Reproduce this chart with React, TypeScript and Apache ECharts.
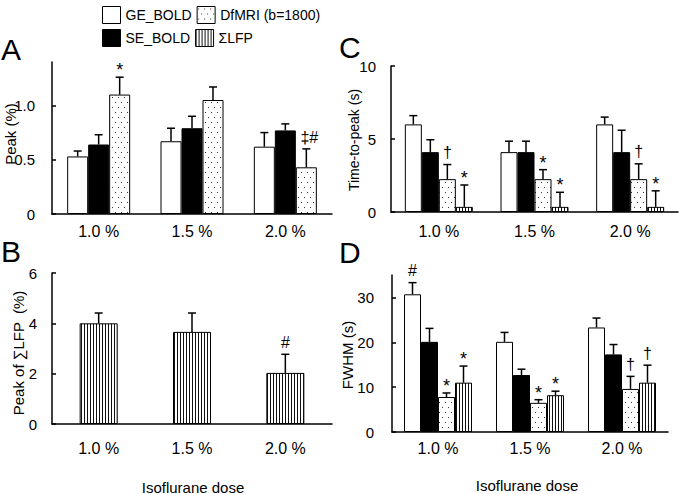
import React, { useEffect, useRef } from 'react';
import * as echarts from 'echarts';

const doses = ['1.0 %', '1.5 %', '2.0 %'];
const nameGE = 'GE_BOLD';
const nameSE = 'SE_BOLD';
const nameDf = 'DfMRI (b=1800)';
const nameLFP = 'ΣLFP';

// Panel A: Peak (%)
const peakGE = [0.53, 0.67, 0.62];
const peakGEErr = [0.05, 0.12, 0.13];
const peakSE = [0.64, 0.79, 0.77];
const peakSEErr = [0.09, 0.11, 0.06];
const peakDf = [1.1, 1.05, 0.43];
const peakDfErr = [0.16, 0.12, 0.17];
const peakDfMarks = ['*', '', '‡#'];

// Panel B: Peak of ΣLFP (%)
const lfpPeak = [4.0, 3.66, 2.03];
const lfpPeakErr = [0.41, 0.75, 0.74];
const lfpPeakMarks = ['', '', '#'];

// Panel C: Time-to-peak (s)
const ttpGE = [6.0, 4.1, 6.0];
const ttpGEErr = [0.6, 0.75, 0.5];
const ttpSE = [4.1, 4.1, 4.1];
const ttpSEErr = [0.85, 0.75, 1.5];
const ttpDf = [2.25, 2.25, 2.25];
const ttpDfErr = [1.0, 0.65, 1.05];
const ttpDfMarks = ['†', '*', '†'];
const ttpLFP = [0.35, 0.35, 0.35];
const ttpLFPErr = [1.5, 1.0, 1.1];
const ttpLFPMarks = ['*', '*', '*'];

// Panel D: FWHM (s)
const fwhmGE = [30.7, 20.1, 23.3];
const fwhmGEErr = [2.6, 2.1, 2.1];
const fwhmGEMarks = ['#', '', ''];
const fwhmSE = [20.1, 12.7, 17.3];
const fwhmSEErr = [3.0, 1.3, 2.2];
const fwhmDf = [7.8, 6.5, 9.6];
const fwhmDfErr = [0.9, 0.7, 2.8];
const fwhmDfMarks = ['*', '*', '†'];
const fwhmLFP = [11.0, 8.2, 11.0];
const fwhmLFPErr = [3.7, 0.9, 3.9];
const fwhmLFPMarks = ['*', '*', '†'];

const FONT = '"Liberation Sans", Arial, Helvetica, sans-serif';

function makeDotCanvas() {
  const c = document.createElement('canvas');
  c.width = 6;
  c.height = 10;
  const ctx = c.getContext('2d')!;
  ctx.fillStyle = '#ffffff';
  ctx.fillRect(0, 0, 6, 10);
  ctx.fillStyle = '#333333';
  ctx.fillRect(1, 2, 1, 1);
  ctx.fillRect(4, 7, 1, 1);
  return c;
}
function makeStripeCanvas() {
  const c = document.createElement('canvas');
  c.width = 3;
  c.height = 4;
  const ctx = c.getContext('2d')!;
  ctx.fillStyle = '#ffffff';
  ctx.fillRect(0, 0, 3, 4);
  ctx.fillStyle = '#111111';
  ctx.fillRect(0, 0, 1, 4);
  return c;
}

type S = { name: string; values: number[]; errs: number[]; marks?: string[] };

function buildOption() {
  const dotC = makeDotCanvas();
  const stripeC = makeStripeCanvas();
  const fills: Record<string, any> = {
    [nameGE]: '#ffffff',
    [nameSE]: '#000000',
    [nameDf]: { image: dotC, repeat: 'repeat', imageWidth: 6, imageHeight: 10 },
    [nameLFP]: { image: stripeC, repeat: 'repeat', imageWidth: 3, imageHeight: 4 },
  };

  const panels = [
    {
      grid: { left: 52, top: 62, width: 280, height: 152 },
      max: 1.4,
      ticks: [0, 0.5, 1.0],
      fmt: (v: number) => (v === 0 ? '0' : v.toFixed(1)),
      yMargin: 17,
      xMargin: 9,
      bw: 21,
      series: [
        { name: nameGE, values: peakGE, errs: peakGEErr },
        { name: nameSE, values: peakSE, errs: peakSEErr },
        { name: nameDf, values: peakDf, errs: peakDfErr, marks: peakDfMarks },
      ] as S[],
    },
    {
      grid: { left: 52, top: 273, width: 280, height: 151 },
      max: 6,
      ticks: [0, 2, 4, 6],
      fmt: (v: number) => String(v),
      yMargin: 15,
      xMargin: 16,
      bw: 38,
      series: [{ name: nameLFP, values: lfpPeak, errs: lfpPeakErr, marks: lfpPeakMarks }] as S[],
    },
    {
      grid: { left: 391, top: 66, width: 287, height: 146 },
      max: 10,
      ticks: [0, 5, 10],
      fmt: (v: number) => String(v),
      yMargin: 15,
      xMargin: 11,
      bw: 17,
      series: [
        { name: nameGE, values: ttpGE, errs: ttpGEErr },
        { name: nameSE, values: ttpSE, errs: ttpSEErr },
        { name: nameDf, values: ttpDf, errs: ttpDfErr, marks: ttpDfMarks },
        { name: nameLFP, values: ttpLFP, errs: ttpLFPErr, marks: ttpLFPMarks },
      ] as S[],
    },
    {
      grid: { left: 392, top: 275, width: 276, height: 157 },
      max: 35,
      ticks: [0, 10, 20, 30],
      fmt: (v: number) => String(v),
      yMargin: 18,
      xMargin: 8,
      bw: 17,
      series: [
        { name: nameGE, values: fwhmGE, errs: fwhmGEErr, marks: fwhmGEMarks },
        { name: nameSE, values: fwhmSE, errs: fwhmSEErr },
        { name: nameDf, values: fwhmDf, errs: fwhmDfErr, marks: fwhmDfMarks },
        { name: nameLFP, values: fwhmLFP, errs: fwhmLFPErr, marks: fwhmLFPMarks },
      ] as S[],
    },
  ];

  const grids: any[] = [];
  const xAxes: any[] = [];
  const yAxes: any[] = [];
  const series: any[] = [];

  const markOffset: Record<string, number> = { '*': 2, '†': -4, '#': -4, '‡#': -3 };

  panels.forEach((p, pi) => {
    grids.push(p.grid);
    xAxes.push({
      type: 'category',
      gridIndex: pi,
      data: doses,
      axisTick: { show: false },
      axisLine: { lineStyle: { color: '#000', width: 1.5 } },
      axisLabel: { color: '#000', fontSize: 16, fontFamily: FONT, margin: p.xMargin },
    });
    yAxes.push({
      type: 'value',
      gridIndex: pi,
      min: 0,
      max: p.max,
      interval: p.ticks[1],
      splitLine: { show: false },
      axisLine: { show: true, lineStyle: { color: '#000', width: 1.5 } },
      axisTick: { show: true, inside: true, length: 4, lineStyle: { color: '#000', width: 1.5 }, customValues: p.ticks },
      axisLabel: { color: '#000', fontSize: 15, fontFamily: FONT, margin: p.yMargin, formatter: p.fmt, customValues: p.ticks },
    });
    const n = p.series.length;
    p.series.forEach((s) => {
      series.push({
        type: 'bar',
        name: s.name,
        xAxisIndex: pi,
        yAxisIndex: pi,
        data: s.values,
        barWidth: p.bw,
        barGap: '0%',
        itemStyle: { color: fills[s.name], borderColor: '#000', borderWidth: 1 },
        emphasis: { disabled: true },
      });
    });
    const items: { ci: number; j: number; v: number; e: number; mark: string }[] = [];
    p.series.forEach((s, j) => {
      s.values.forEach((v, ci) => {
        items.push({ ci, j, v, e: s.errs[ci], mark: s.marks ? s.marks[ci] : '' });
      });
    });
    const bw = p.bw;
    series.push({
      type: 'custom',
      xAxisIndex: pi,
      yAxisIndex: pi,
      silent: true,
      z: 5,
      data: items.map((it) => [it.ci, it.j, it.v, it.e]),
      renderItem: (params: any, api: any) => {
        const it = items[params.dataIndex];
        const base = api.coord([it.ci, it.v]);
        const top = api.coord([it.ci, it.v + it.e]);
        const x = base[0] + (it.j - (n - 1) / 2) * bw;
        const children: any[] = [
          { type: 'line', shape: { x1: x, y1: base[1], x2: x, y2: top[1] }, style: { stroke: '#000', lineWidth: 1.5 } },
          { type: 'line', shape: { x1: x - 4, y1: top[1], x2: x + 4, y2: top[1] }, style: { stroke: '#000', lineWidth: 1.5 } },
        ];
        if (it.mark) {
          const isStar = it.mark === '*';
          children.push({
            type: 'text',
            style: {
              text: it.mark,
              x: x + (it.mark === '‡#' ? 3 : 0),
              y: top[1] + (markOffset[it.mark] ?? -4),
              align: 'center',
              verticalAlign: 'bottom',
              fill: '#000',
              font: `${isStar ? 18 : 16}px ${FONT}`,
            },
          });
        }
        return { type: 'group', children };
      },
    });
  });

  const graphic: any[] = [
    { type: 'text', left: 1, top: 34, style: { text: 'A', font: `30px ${FONT}`, fill: '#000' } },
    { type: 'text', left: 1, top: 236, style: { text: 'B', font: `30px ${FONT}`, fill: '#000' } },
    { type: 'text', left: 339, top: 32, style: { text: 'C', font: `30px ${FONT}`, fill: '#000' } },
    { type: 'text', left: 339, top: 237, style: { text: 'D', font: `30px ${FONT}`, fill: '#000' } },
    { type: 'text', x: 10, y: 134, rotation: Math.PI / 2, style: { text: 'Peak (%)', font: `15px ${FONT}`, fill: '#000', align: 'center', verticalAlign: 'middle' } },
    { type: 'text', x: 18, y: 353, rotation: Math.PI / 2, style: { text: 'Peak of ∑LFP  (%)', font: `15px ${FONT}`, fill: '#000', align: 'center', verticalAlign: 'middle' } },
    { type: 'text', x: 354, y: 140, rotation: Math.PI / 2, style: { text: 'Time-to-peak (s)', font: `14px ${FONT}`, fill: '#000', align: 'center', verticalAlign: 'middle' } },
    { type: 'text', x: 347, y: 355, rotation: Math.PI / 2, style: { text: 'FWHM (s)', font: `15px ${FONT}`, fill: '#000', align: 'center', verticalAlign: 'middle' } },
    { type: 'text', x: 193, y: 487, style: { text: 'Isoflurane dose', font: `15px ${FONT}`, fill: '#000', align: 'center', verticalAlign: 'middle' } },
    { type: 'text', x: 527, y: 485, style: { text: 'Isoflurane dose', font: `15px ${FONT}`, fill: '#000', align: 'center', verticalAlign: 'middle' } },
  ];

  return {
    animation: false,
    backgroundColor: '#ffffff',
    textStyle: { fontFamily: FONT },
    legend: {
      left: 97,
      top: 1,
      width: 225,
      orient: 'horizontal',
      icon: 'rect',
      itemWidth: 18,
      itemHeight: 17,
      itemGap: 5,
      selectedMode: false,
      data: [nameGE, nameDf, nameSE, nameLFP],
      itemStyle: { borderColor: '#000', borderWidth: 1 },
      textStyle: { color: '#000', fontSize: 14, fontFamily: FONT },
    },
    grid: grids,
    xAxis: xAxes,
    yAxis: yAxes,
    series,
    graphic,
  };
}

export default function App() {
  const ref = useRef<HTMLDivElement>(null);
  useEffect(() => {
    if (!ref.current) return;
    const chart = echarts.init(ref.current, null, { renderer: 'svg' });
    chart.setOption(buildOption() as any);
    return () => chart.dispose();
  }, []);
  return <div ref={ref} style={{ position: 'fixed', left: 0, top: 0, width: 680, height: 494, background: '#fff' }} />;
}
